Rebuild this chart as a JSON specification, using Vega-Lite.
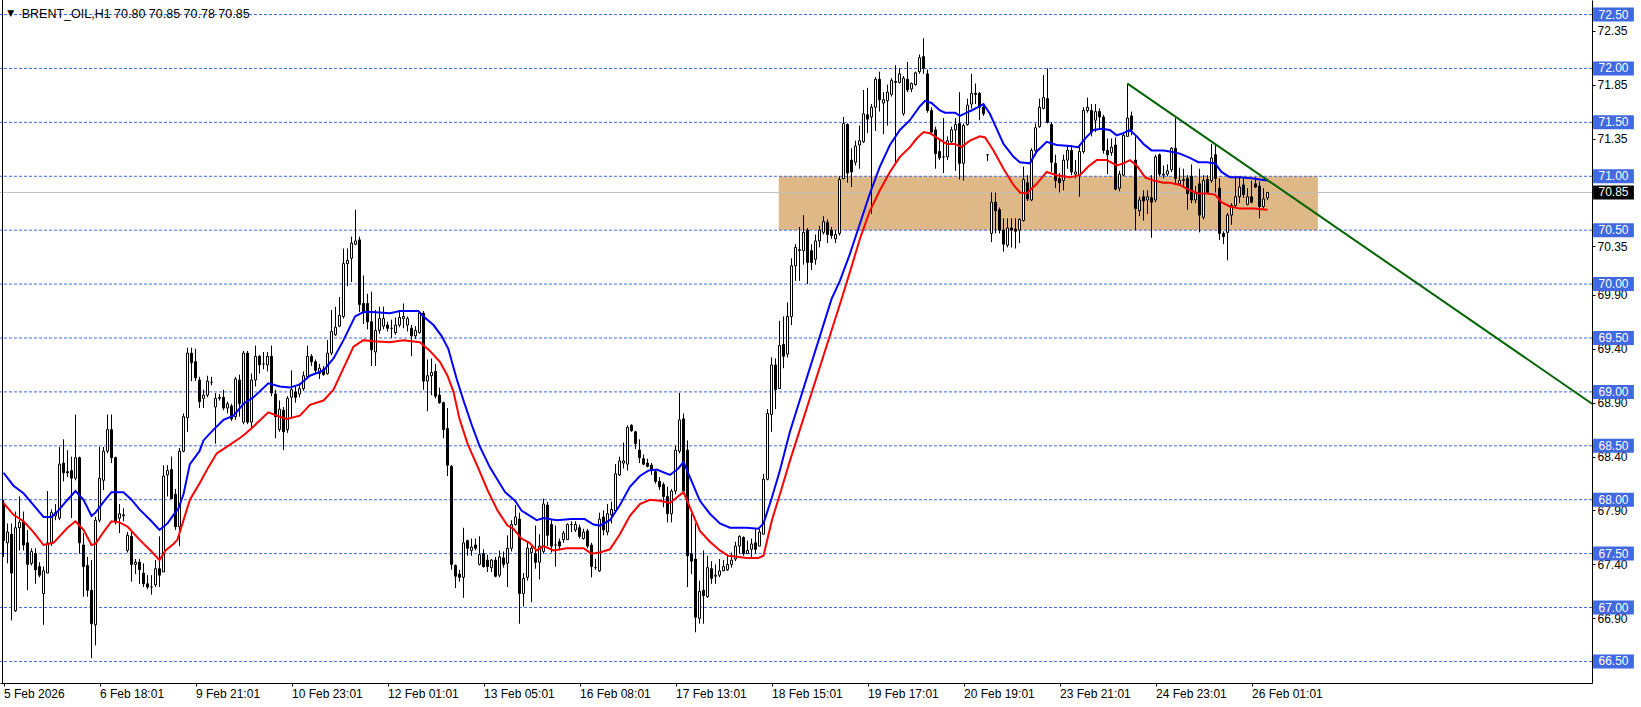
{
"$schema":"https://vega.github.io/schema/vega-lite/v6.json",
"width":1592,"height":683,
"autosize":{"type":"none"},
"padding":{"left":0,"top":0,"right":49,"bottom":24},
"background":"#ffffff",
"config":{"view":{"stroke":null},"font":"Liberation Sans","scale":{"continuousPadding":0}},
"resolve":{"axis":{"x":"independent","y":"independent"}},
"datasets":{
"zone":[{"a":193.8,"b":328.6,"top":71.0,"bot":70.5}],
"trend":[{"i":281,"v":71.86},{"i":397.125,"v":68.89}],
"last":[{"v":70.85}],
"frame":[{"k":1}],
"title":[{"t":"BRENT_OIL,H1 70.80 70.85 70.78 70.85","m":"▼"}],
"levels":[{"lv":66.5},{"lv":67.0},{"lv":67.5},{"lv":68.0},{"lv":68.5},{"lv":69.0},{"lv":69.5},{"lv":70.0},{"lv":70.5},{"lv":71.0},{"lv":71.5},{"lv":72.0},{"lv":72.5}],
"candles":[
{"i":0,"o":67.95,"h":68.0,"l":67.47,"c":67.62},{"i":1,"o":67.6,"h":67.78,"l":67.41,"c":67.7},{"i":2,"o":67.68,"h":67.78,"l":66.88,"c":67.32},{"i":3,"o":66.97,"h":67.89,"l":66.96,"c":67.74},{"i":4,"o":67.74,"h":68.03,"l":67.53,"c":67.79},{"i":5,"o":67.8,"h":67.89,"l":67.53,"c":67.58},{"i":6,"o":67.6,"h":67.72,"l":67.16,"c":67.4},{"i":7,"o":67.41,"h":67.55,"l":67.39,"c":67.52},{"i":8,"o":67.5,"h":67.55,"l":67.22,"c":67.35},{"i":9,"o":67.38,"h":67.42,"l":67.28,"c":67.3},
{"i":10,"o":67.13,"h":67.38,"l":66.84,"c":67.34},{"i":11,"o":67.32,"h":68.08,"l":67.32,"c":67.6},{"i":12,"o":67.6,"h":67.91,"l":67.57,"c":67.88},{"i":13,"o":67.85,"h":67.96,"l":67.81,"c":67.88},{"i":14,"o":67.83,"h":68.49,"l":67.81,"c":68.33},{"i":15,"o":68.34,"h":68.56,"l":68.17,"c":68.25},{"i":16,"o":68.26,"h":68.46,"l":68.21,"c":68.25},{"i":17,"o":68.27,"h":68.4,"l":67.83,"c":68.2},{"i":18,"o":68.2,"h":68.79,"l":68.18,"c":68.39},{"i":19,"o":68.39,"h":68.4,"l":67.5,"c":67.6},
{"i":20,"o":67.58,"h":67.69,"l":67.1,"c":67.38},{"i":21,"o":67.39,"h":67.47,"l":67.1,"c":67.16},{"i":22,"o":67.16,"h":67.44,"l":66.53,"c":66.85},{"i":23,"o":66.84,"h":67.84,"l":66.65,"c":67.81},{"i":24,"o":67.81,"h":68.49,"l":67.79,"c":68.2},{"i":25,"o":68.18,"h":68.49,"l":68.09,"c":68.45},{"i":26,"o":68.45,"h":68.79,"l":68.43,"c":68.65},{"i":27,"o":68.65,"h":68.79,"l":68.34,"c":68.39},{"i":28,"o":68.39,"h":68.4,"l":67.77,"c":67.8},{"i":29,"o":67.83,"h":67.96,"l":67.69,"c":67.87},
{"i":30,"o":67.85,"h":67.92,"l":67.8,"c":67.86},{"i":31,"o":67.53,"h":67.7,"l":67.51,"c":67.67},{"i":32,"o":67.66,"h":67.7,"l":67.24,"c":67.4},{"i":33,"o":67.4,"h":67.45,"l":67.31,"c":67.42},{"i":34,"o":67.42,"h":67.45,"l":67.22,"c":67.35},{"i":35,"o":67.32,"h":67.41,"l":67.19,"c":67.22},{"i":36,"o":67.22,"h":67.3,"l":67.17,"c":67.19},{"i":37,"o":67.19,"h":67.3,"l":67.12,"c":67.19},{"i":38,"o":67.21,"h":67.44,"l":67.19,"c":67.36},{"i":39,"o":67.36,"h":67.66,"l":67.19,"c":67.3},
{"i":40,"o":67.33,"h":68.32,"l":67.33,"c":68.22},{"i":41,"o":68.23,"h":68.32,"l":68.03,"c":68.27},{"i":42,"o":68.28,"h":68.4,"l":68.01,"c":68.01},{"i":43,"o":68.05,"h":68.1,"l":67.72,"c":67.75},{"i":44,"o":67.75,"h":68.48,"l":67.57,"c":68.45},{"i":45,"o":68.45,"h":68.8,"l":68.44,"c":68.77},{"i":46,"o":68.76,"h":69.41,"l":68.63,"c":69.36},{"i":47,"o":69.36,"h":69.41,"l":69.1,"c":69.27},{"i":48,"o":69.28,"h":69.4,"l":69.1,"c":69.13},{"i":49,"o":69.11,"h":69.14,"l":68.85,"c":68.91},
{"i":50,"o":68.94,"h":69.02,"l":68.85,"c":68.97},{"i":51,"o":68.97,"h":69.15,"l":68.95,"c":69.1},{"i":52,"o":69.09,"h":69.14,"l":69.06,"c":69.09},{"i":53,"o":68.86,"h":68.99,"l":68.52,"c":68.94},{"i":54,"o":68.94,"h":68.98,"l":68.92,"c":68.95},{"i":55,"o":68.95,"h":69.02,"l":68.83,"c":68.85},{"i":56,"o":68.85,"h":68.91,"l":68.8,"c":68.89},{"i":57,"o":68.87,"h":68.89,"l":68.73,"c":68.75},{"i":58,"o":68.77,"h":69.14,"l":68.74,"c":69.12},{"i":59,"o":69.11,"h":69.16,"l":68.77,"c":68.89},
{"i":60,"o":68.72,"h":69.38,"l":68.7,"c":69.36},{"i":61,"o":69.36,"h":69.38,"l":68.7,"c":68.72},{"i":62,"o":68.72,"h":69.17,"l":68.67,"c":69.11},{"i":63,"o":69.11,"h":69.43,"l":69.05,"c":69.33},{"i":64,"o":69.33,"h":69.34,"l":69.17,"c":69.25},{"i":65,"o":69.26,"h":69.37,"l":69.21,"c":69.26},{"i":66,"o":69.25,"h":69.37,"l":69.19,"c":69.33},{"i":67,"o":69.33,"h":69.43,"l":68.96,"c":68.99},{"i":68,"o":68.98,"h":69.02,"l":68.57,"c":68.77},{"i":69,"o":68.65,"h":68.92,"l":68.63,"c":68.84},
{"i":70,"o":68.83,"h":68.86,"l":68.46,"c":68.63},{"i":71,"o":68.65,"h":68.96,"l":68.62,"c":68.94},{"i":72,"o":68.95,"h":69.2,"l":68.75,"c":69.02},{"i":73,"o":69.0,"h":69.05,"l":68.9,"c":68.95},{"i":74,"o":68.98,"h":69.08,"l":68.95,"c":69.03},{"i":75,"o":69.03,"h":69.19,"l":69.01,"c":69.15},{"i":76,"o":69.14,"h":69.43,"l":69.12,"c":69.33},{"i":77,"o":69.33,"h":69.35,"l":69.24,"c":69.28},{"i":78,"o":69.28,"h":69.3,"l":69.17,"c":69.2},{"i":79,"o":69.17,"h":69.26,"l":69.12,"c":69.22},
{"i":80,"o":69.21,"h":69.24,"l":69.15,"c":69.16},{"i":81,"o":69.17,"h":69.48,"l":69.16,"c":69.36},{"i":82,"o":69.36,"h":69.76,"l":69.34,"c":69.56},{"i":83,"o":69.53,"h":69.79,"l":69.52,"c":69.6},{"i":84,"o":69.61,"h":69.88,"l":69.6,"c":69.71},{"i":85,"o":69.7,"h":70.33,"l":69.68,"c":70.19},{"i":86,"o":70.19,"h":70.33,"l":69.98,"c":70.22},{"i":87,"o":70.24,"h":70.44,"l":70.02,"c":70.38},{"i":88,"o":70.37,"h":70.69,"l":70.36,"c":70.4},{"i":89,"o":70.41,"h":70.44,"l":69.74,"c":69.81},
{"i":90,"o":69.82,"h":70.08,"l":69.63,"c":69.74},{"i":91,"o":69.82,"h":69.91,"l":69.58,"c":69.65},{"i":92,"o":69.65,"h":69.93,"l":69.24,"c":69.39},{"i":93,"o":69.37,"h":69.76,"l":69.24,"c":69.57},{"i":94,"o":69.57,"h":69.79,"l":69.54,"c":69.68},{"i":95,"o":69.61,"h":69.79,"l":69.58,"c":69.68},{"i":96,"o":69.62,"h":69.65,"l":69.56,"c":69.59},{"i":97,"o":69.59,"h":69.67,"l":69.5,"c":69.59},{"i":98,"o":69.55,"h":69.69,"l":69.53,"c":69.62},{"i":99,"o":69.62,"h":69.74,"l":69.6,"c":69.69},
{"i":100,"o":69.68,"h":69.82,"l":69.59,"c":69.7},{"i":101,"o":69.62,"h":69.7,"l":69.56,"c":69.68},{"i":102,"o":69.59,"h":69.62,"l":69.33,"c":69.52},{"i":103,"o":69.52,"h":69.61,"l":69.49,"c":69.57},{"i":104,"o":69.55,"h":69.75,"l":69.54,"c":69.73},{"i":105,"o":69.73,"h":69.75,"l":69.02,"c":69.1},{"i":106,"o":69.1,"h":69.3,"l":68.82,"c":69.15},{"i":107,"o":69.15,"h":69.31,"l":68.97,"c":69.18},{"i":108,"o":69.19,"h":69.26,"l":68.94,"c":68.96},{"i":109,"o":68.97,"h":69.04,"l":68.89,"c":68.9},
{"i":110,"o":68.9,"h":68.91,"l":68.57,"c":68.65},{"i":111,"o":68.66,"h":68.85,"l":68.22,"c":68.32},{"i":112,"o":68.31,"h":68.32,"l":67.35,"c":67.4},{"i":113,"o":67.39,"h":67.4,"l":67.18,"c":67.29},{"i":114,"o":67.31,"h":67.35,"l":67.24,"c":67.28},{"i":115,"o":67.28,"h":67.74,"l":67.09,"c":67.6},{"i":116,"o":67.62,"h":67.63,"l":67.48,"c":67.55},{"i":117,"o":67.53,"h":67.64,"l":67.48,"c":67.56},{"i":118,"o":67.58,"h":67.64,"l":67.53,"c":67.55},{"i":119,"o":67.4,"h":67.66,"l":67.39,"c":67.49},
{"i":120,"o":67.5,"h":67.54,"l":67.37,"c":67.38},{"i":121,"o":67.44,"h":67.49,"l":67.33,"c":67.38},{"i":122,"o":67.37,"h":67.45,"l":67.33,"c":67.44},{"i":123,"o":67.44,"h":67.47,"l":67.28,"c":67.29},{"i":124,"o":67.3,"h":67.53,"l":67.28,"c":67.47},{"i":125,"o":67.46,"h":67.52,"l":67.37,"c":67.4},{"i":126,"o":67.41,"h":67.67,"l":67.19,"c":67.55},{"i":127,"o":67.55,"h":67.81,"l":67.52,"c":67.77},{"i":128,"o":67.77,"h":67.95,"l":67.76,"c":67.84},{"i":129,"o":67.82,"h":67.88,"l":66.85,"c":67.13},
{"i":130,"o":67.13,"h":67.32,"l":67.01,"c":67.27},{"i":131,"o":67.28,"h":67.6,"l":67.25,"c":67.55},{"i":132,"o":67.51,"h":67.58,"l":67.05,"c":67.55},{"i":133,"o":67.5,"h":67.76,"l":67.36,"c":67.42},{"i":134,"o":67.42,"h":67.68,"l":67.26,"c":67.57},{"i":135,"o":67.52,"h":68.01,"l":67.5,"c":67.96},{"i":136,"o":67.95,"h":67.98,"l":67.57,"c":67.67},{"i":137,"o":67.77,"h":67.81,"l":67.51,"c":67.57},{"i":138,"o":67.58,"h":67.76,"l":67.38,"c":67.58},{"i":139,"o":67.61,"h":67.64,"l":67.53,"c":67.57},
{"i":140,"o":67.63,"h":67.71,"l":67.6,"c":67.69},{"i":141,"o":67.63,"h":67.78,"l":67.63,"c":67.77},{"i":142,"o":67.77,"h":67.8,"l":67.7,"c":67.77},{"i":143,"o":67.72,"h":67.8,"l":67.7,"c":67.77},{"i":144,"o":67.74,"h":67.77,"l":67.64,"c":67.66},{"i":145,"o":67.64,"h":67.73,"l":67.63,"c":67.7},{"i":146,"o":67.71,"h":67.73,"l":67.55,"c":67.57},{"i":147,"o":67.58,"h":67.6,"l":67.28,"c":67.38},{"i":148,"o":67.37,"h":67.45,"l":67.35,"c":67.37},{"i":149,"o":67.34,"h":67.88,"l":67.33,"c":67.82},
{"i":150,"o":67.84,"h":67.9,"l":67.67,"c":67.72},{"i":151,"o":67.7,"h":67.96,"l":67.67,"c":67.87},{"i":152,"o":67.86,"h":67.98,"l":67.78,"c":67.91},{"i":153,"o":67.9,"h":68.33,"l":67.88,"c":68.24},{"i":154,"o":68.23,"h":68.4,"l":68.22,"c":68.36},{"i":155,"o":68.34,"h":68.53,"l":68.29,"c":68.36},{"i":156,"o":68.33,"h":68.69,"l":68.27,"c":68.67},{"i":157,"o":68.69,"h":68.7,"l":68.63,"c":68.64},{"i":158,"o":68.63,"h":68.64,"l":68.47,"c":68.52},{"i":159,"o":68.46,"h":68.56,"l":68.34,"c":68.39},
{"i":160,"o":68.38,"h":68.42,"l":68.32,"c":68.33},{"i":161,"o":68.34,"h":68.38,"l":68.3,"c":68.31},{"i":162,"o":68.32,"h":68.34,"l":68.23,"c":68.28},{"i":163,"o":68.26,"h":68.28,"l":68.15,"c":68.17},{"i":164,"o":68.17,"h":68.21,"l":68.09,"c":68.12},{"i":165,"o":68.14,"h":68.16,"l":67.93,"c":68.03},{"i":166,"o":68.03,"h":68.12,"l":67.79,"c":67.87},{"i":167,"o":67.87,"h":68.1,"l":67.79,"c":68.08},{"i":168,"o":68.08,"h":68.5,"l":68.05,"c":68.46},{"i":169,"o":68.45,"h":68.99,"l":68.43,"c":68.74},
{"i":170,"o":68.75,"h":68.8,"l":68.05,"c":68.08},{"i":171,"o":68.46,"h":68.55,"l":67.19,"c":67.48},{"i":172,"o":67.5,"h":67.87,"l":67.31,"c":67.43},{"i":173,"o":67.45,"h":67.78,"l":66.77,"c":66.91},{"i":174,"o":66.9,"h":67.25,"l":66.85,"c":67.15},{"i":175,"o":67.16,"h":67.53,"l":66.85,"c":67.11},{"i":176,"o":67.1,"h":67.48,"l":67.09,"c":67.37},{"i":177,"o":67.36,"h":67.43,"l":67.22,"c":67.27},{"i":178,"o":67.29,"h":67.4,"l":67.22,"c":67.3},{"i":179,"o":67.3,"h":67.45,"l":67.28,"c":67.34},
{"i":180,"o":67.34,"h":67.44,"l":67.34,"c":67.38},{"i":181,"o":67.35,"h":67.49,"l":67.34,"c":67.4},{"i":182,"o":67.4,"h":67.51,"l":67.37,"c":67.44},{"i":183,"o":67.45,"h":67.61,"l":67.43,"c":67.57},{"i":184,"o":67.57,"h":67.67,"l":67.5,"c":67.66},{"i":185,"o":67.65,"h":67.66,"l":67.48,"c":67.5},{"i":186,"o":67.5,"h":67.62,"l":67.5,"c":67.53},{"i":187,"o":67.54,"h":67.64,"l":67.47,"c":67.59},{"i":188,"o":67.6,"h":67.73,"l":67.5,"c":67.54},{"i":189,"o":67.57,"h":67.73,"l":67.57,"c":67.7},
{"i":190,"o":67.68,"h":68.24,"l":67.68,"c":68.19},{"i":191,"o":68.19,"h":68.84,"l":68.18,"c":68.8},{"i":192,"o":68.79,"h":69.32,"l":68.63,"c":69.25},{"i":193,"o":69.25,"h":69.31,"l":68.84,"c":69.02},{"i":194,"o":69.03,"h":69.66,"l":69.03,"c":69.43},{"i":195,"o":69.44,"h":69.7,"l":69.22,"c":69.33},{"i":196,"o":69.35,"h":69.83,"l":69.32,"c":69.7},{"i":197,"o":69.7,"h":70.24,"l":69.62,"c":70.17},{"i":198,"o":70.17,"h":70.37,"l":70.03,"c":70.34},{"i":199,"o":70.31,"h":70.53,"l":70.03,"c":70.32},
{"i":200,"o":70.31,"h":70.64,"l":70.18,"c":70.48},{"i":201,"o":70.5,"h":70.52,"l":70.0,"c":70.2},{"i":202,"o":70.31,"h":70.37,"l":70.13,"c":70.2},{"i":203,"o":70.23,"h":70.46,"l":70.18,"c":70.4},{"i":204,"o":70.4,"h":70.54,"l":70.34,"c":70.5},{"i":205,"o":70.48,"h":70.63,"l":70.46,"c":70.58},{"i":206,"o":70.57,"h":70.6,"l":70.38,"c":70.46},{"i":207,"o":70.5,"h":70.53,"l":70.42,"c":70.45},{"i":208,"o":70.42,"h":70.5,"l":70.38,"c":70.46},{"i":209,"o":70.47,"h":71.0,"l":70.45,"c":70.97},
{"i":210,"o":70.98,"h":71.55,"l":70.97,"c":71.49},{"i":211,"o":71.48,"h":71.49,"l":70.94,"c":71.03},{"i":212,"o":71.15,"h":71.26,"l":70.9,"c":71.04},{"i":213,"o":71.13,"h":71.33,"l":71.1,"c":71.28},{"i":214,"o":71.29,"h":71.47,"l":71.07,"c":71.33},{"i":215,"o":71.32,"h":71.8,"l":71.31,"c":71.58},{"i":216,"o":71.57,"h":71.82,"l":71.4,"c":71.53},{"i":217,"o":71.55,"h":71.67,"l":70.65,"c":71.64},{"i":218,"o":71.64,"h":71.92,"l":71.42,"c":71.9},{"i":219,"o":71.9,"h":71.97,"l":71.6,"c":71.71},
{"i":220,"o":71.68,"h":71.78,"l":71.39,"c":71.71},{"i":221,"o":71.7,"h":71.85,"l":71.47,"c":71.78},{"i":222,"o":71.76,"h":71.91,"l":71.74,"c":71.89},{"i":223,"o":71.88,"h":72.03,"l":71.12,"c":71.87},{"i":224,"o":71.87,"h":72.0,"l":71.86,"c":71.95},{"i":225,"o":71.58,"h":71.93,"l":71.56,"c":71.91},{"i":226,"o":71.9,"h":72.06,"l":71.78,"c":71.8},{"i":227,"o":71.81,"h":71.87,"l":71.78,"c":71.86},{"i":228,"o":71.85,"h":71.97,"l":71.84,"c":71.96},{"i":229,"o":71.97,"h":72.13,"l":71.95,"c":72.1},
{"i":230,"o":72.11,"h":72.28,"l":71.95,"c":72.0},{"i":231,"o":71.95,"h":71.99,"l":71.59,"c":71.61},{"i":232,"o":71.61,"h":71.64,"l":71.4,"c":71.41},{"i":233,"o":71.43,"h":71.46,"l":71.07,"c":71.21},{"i":234,"o":71.23,"h":71.34,"l":71.15,"c":71.17},{"i":235,"o":71.18,"h":71.54,"l":71.03,"c":71.18},{"i":236,"o":71.18,"h":71.37,"l":71.15,"c":71.33},{"i":237,"o":71.32,"h":71.46,"l":71.31,"c":71.43},{"i":238,"o":71.43,"h":71.54,"l":71.05,"c":71.48},{"i":239,"o":71.49,"h":71.78,"l":70.97,"c":71.12},
{"i":240,"o":71.12,"h":71.49,"l":70.96,"c":71.47},{"i":241,"o":71.48,"h":71.72,"l":71.47,"c":71.66},{"i":242,"o":71.67,"h":71.95,"l":71.63,"c":71.77},{"i":243,"o":71.77,"h":71.86,"l":71.67,"c":71.76},{"i":244,"o":71.77,"h":71.78,"l":71.52,"c":71.64},{"i":245,"o":71.64,"h":71.67,"l":71.56,"c":71.58},{"i":246,"o":71.2,"h":71.2,"l":71.14,"c":71.2},{"i":247,"o":70.47,"h":70.85,"l":70.39,"c":70.76},{"i":248,"o":70.76,"h":70.85,"l":70.47,"c":70.68},{"i":249,"o":70.69,"h":70.71,"l":70.47,"c":70.5},
{"i":250,"o":70.5,"h":70.61,"l":70.3,"c":70.37},{"i":251,"o":70.36,"h":70.61,"l":70.34,"c":70.52},{"i":252,"o":70.52,"h":70.61,"l":70.34,"c":70.5},{"i":253,"o":70.51,"h":70.61,"l":70.33,"c":70.49},{"i":254,"o":70.5,"h":70.61,"l":70.38,"c":70.6},{"i":255,"o":70.59,"h":71.09,"l":70.58,"c":70.97},{"i":256,"o":70.94,"h":71.01,"l":70.77,"c":70.79},{"i":257,"o":70.78,"h":71.26,"l":70.77,"c":71.24},{"i":258,"o":71.24,"h":71.49,"l":71.21,"c":71.45},{"i":259,"o":71.46,"h":71.72,"l":71.45,"c":71.64},
{"i":260,"o":71.63,"h":71.94,"l":71.62,"c":71.73},{"i":261,"o":71.72,"h":72.0,"l":71.49,"c":71.5},{"i":262,"o":71.48,"h":71.5,"l":71.04,"c":71.13},{"i":263,"o":71.12,"h":71.2,"l":70.89,"c":70.96},{"i":264,"o":70.98,"h":71.03,"l":70.85,"c":70.94},{"i":265,"o":70.96,"h":71.2,"l":70.87,"c":71.15},{"i":266,"o":71.15,"h":71.29,"l":71.07,"c":71.24},{"i":267,"o":71.24,"h":71.29,"l":71.01,"c":71.04},{"i":268,"o":71.02,"h":71.15,"l":70.98,"c":71.04},{"i":269,"o":71.01,"h":71.29,"l":70.81,"c":71.23},
{"i":270,"o":71.23,"h":71.64,"l":71.21,"c":71.61},{"i":271,"o":71.61,"h":71.73,"l":71.59,"c":71.64},{"i":272,"o":71.61,"h":71.67,"l":71.37,"c":71.41},{"i":273,"o":71.52,"h":71.67,"l":71.41,"c":71.6},{"i":274,"o":71.6,"h":71.63,"l":71.43,"c":71.55},{"i":275,"o":71.55,"h":71.57,"l":71.21,"c":71.24},{"i":276,"o":71.24,"h":71.35,"l":71.02,"c":71.2},{"i":277,"o":71.22,"h":71.35,"l":71.19,"c":71.27},{"i":278,"o":71.29,"h":71.36,"l":70.87,"c":70.88},{"i":279,"o":70.89,"h":71.05,"l":70.86,"c":71.02},
{"i":280,"o":71.01,"h":71.41,"l":71.0,"c":71.38},{"i":281,"o":71.37,"h":71.86,"l":71.37,"c":71.54},{"i":282,"o":71.56,"h":71.6,"l":71.38,"c":71.43},{"i":283,"o":71.15,"h":71.37,"l":70.5,"c":70.7},{"i":284,"o":70.68,"h":70.81,"l":70.63,"c":70.78},{"i":285,"o":70.81,"h":70.87,"l":70.59,"c":70.77},{"i":286,"o":70.78,"h":70.87,"l":70.65,"c":70.81},{"i":287,"o":70.8,"h":71.01,"l":70.43,"c":70.76},{"i":288,"o":70.78,"h":71.2,"l":70.76,"c":71.18},{"i":289,"o":71.2,"h":71.21,"l":71.0,"c":71.02},
{"i":290,"o":71.01,"h":71.1,"l":70.98,"c":71.02},{"i":291,"o":71.02,"h":71.11,"l":71.0,"c":71.05},{"i":292,"o":71.06,"h":71.27,"l":71.04,"c":71.26},{"i":293,"o":71.26,"h":71.54,"l":70.93,"c":70.98},{"i":294,"o":70.93,"h":71.08,"l":70.93,"c":70.96},{"i":295,"o":70.96,"h":71.07,"l":70.91,"c":70.97},{"i":296,"o":70.98,"h":71.01,"l":70.69,"c":70.84},{"i":297,"o":71.0,"h":71.11,"l":70.75,"c":70.78},{"i":298,"o":70.78,"h":70.91,"l":70.75,"c":70.84},{"i":299,"o":70.93,"h":71.07,"l":70.48,"c":70.64},
{"i":300,"o":70.62,"h":71.01,"l":70.6,"c":70.96},{"i":301,"o":70.97,"h":71.01,"l":70.84,"c":70.85},{"i":302,"o":70.96,"h":71.3,"l":70.94,"c":71.17},{"i":303,"o":71.2,"h":71.3,"l":70.85,"c":70.98},{"i":304,"o":70.89,"h":70.98,"l":70.41,"c":70.47},{"i":305,"o":70.47,"h":70.49,"l":70.37,"c":70.44},{"i":306,"o":70.48,"h":70.66,"l":70.22,"c":70.64},{"i":307,"o":70.64,"h":70.75,"l":70.55,"c":70.73},{"i":308,"o":70.73,"h":70.99,"l":70.71,"c":70.81},{"i":309,"o":70.81,"h":71.0,"l":70.75,"c":70.9},
{"i":310,"o":70.92,"h":70.99,"l":70.8,"c":70.83},{"i":311,"o":70.74,"h":70.89,"l":70.73,"c":70.81},{"i":312,"o":70.81,"h":70.96,"l":70.75,"c":70.76},{"i":313,"o":70.93,"h":70.99,"l":70.89,"c":70.9},{"i":314,"o":70.91,"h":70.95,"l":70.61,"c":70.72},{"i":315,"o":70.72,"h":70.89,"l":70.7,"c":70.79},{"i":316,"o":70.8,"h":70.85,"l":70.78,"c":70.85}
],
"ma":[
{"s":"hi","i":0,"v":68.25},{"s":"hi","i":2.5,"v":68.13},{"s":"hi","i":5,"v":68.06},{"s":"hi","i":7.5,"v":67.95},{"s":"hi","i":10,"v":67.84},{"s":"hi","i":12,"v":67.84},{"s":"hi","i":13.5,"v":67.89},{"s":"hi","i":16,"v":68.0},{"s":"hi","i":18,"v":68.08},{"s":"hi","i":20,"v":68.0},{"s":"hi","i":22,"v":67.85},{"s":"hi","i":23,"v":67.88},{"s":"hi","i":25,"v":67.98},{"s":"hi","i":27,"v":68.07},{"s":"hi","i":30,"v":68.07},{"s":"hi","i":32,"v":68.0},{"s":"hi","i":34,"v":67.91},{"s":"hi","i":37,"v":67.8},{"s":"hi","i":39,"v":67.72},{"s":"hi","i":41,"v":67.78},{"s":"hi","i":42.5,"v":67.86},{"s":"hi","i":43.75,"v":67.92},{"s":"hi","i":45,"v":68.05},{"s":"hi","i":46.6,"v":68.33},{"s":"hi","i":49,"v":68.45},{"s":"hi","i":50,"v":68.55},{"s":"hi","i":52.5,"v":68.65},{"s":"hi","i":55,"v":68.74},{"s":"hi","i":57.5,"v":68.78},{"s":"hi","i":60,"v":68.89},{"s":"hi","i":62.5,"v":68.95},{"s":"hi","i":66.2,"v":69.08},{"s":"hi","i":69.1,"v":69.05},{"s":"hi","i":71.6,"v":69.04},{"s":"hi","i":74.1,"v":69.07},{"s":"hi","i":76.6,"v":69.15},{"s":"hi","i":80,"v":69.2},{"s":"hi","i":82.5,"v":69.31},{"s":"hi","i":85,"v":69.48},{"s":"hi","i":87.9,"v":69.7},{"s":"hi","i":90,"v":69.74},{"s":"hi","i":92.1,"v":69.74},{"s":"hi","i":96.6,"v":69.73},{"s":"hi","i":99.1,"v":69.75},{"s":"hi","i":103.7,"v":69.75},{"s":"hi","i":105,"v":69.7},{"s":"hi","i":107.5,"v":69.62},{"s":"hi","i":109.5,"v":69.52},{"s":"hi","i":111.2,"v":69.4},{"s":"hi","i":113.3,"v":69.12},{"s":"hi","i":115,"v":68.92},{"s":"hi","i":117,"v":68.7},{"s":"hi","i":119,"v":68.5},{"s":"hi","i":121.6,"v":68.3},{"s":"hi","i":125.4,"v":68.07},{"s":"hi","i":127.9,"v":67.99},{"s":"hi","i":129.5,"v":67.9},{"s":"hi","i":133.3,"v":67.81},{"s":"hi","i":135,"v":67.83},{"s":"hi","i":138.3,"v":67.81},{"s":"hi","i":142,"v":67.82},{"s":"hi","i":145.3,"v":67.82},{"s":"hi","i":147.5,"v":67.77},{"s":"hi","i":149.1,"v":67.76},{"s":"hi","i":151.6,"v":67.81},{"s":"hi","i":154.1,"v":67.95},{"s":"hi","i":156.6,"v":68.12},{"s":"hi","i":159.1,"v":68.22},{"s":"hi","i":161.2,"v":68.27},{"s":"hi","i":163.3,"v":68.28},{"s":"hi","i":166.6,"v":68.23},{"s":"hi","i":168.7,"v":68.29},{"s":"hi","i":170,"v":68.35},{"s":"hi","i":171.6,"v":68.21},{"s":"hi","i":174.1,"v":67.99},{"s":"hi","i":176.6,"v":67.87},{"s":"hi","i":179.1,"v":67.78},{"s":"hi","i":181.6,"v":67.74},{"s":"hi","i":185.8,"v":67.74},{"s":"hi","i":188.7,"v":67.73},{"s":"hi","i":190,"v":67.78},{"s":"hi","i":192.1,"v":68.02},{"s":"hi","i":194.1,"v":68.27},{"s":"hi","i":196.6,"v":68.63},{"s":"hi","i":207,"v":69.86},{"s":"hi","i":209.1,"v":70.03},{"s":"hi","i":211.6,"v":70.28},{"s":"hi","i":214.1,"v":70.56},{"s":"hi","i":216.6,"v":70.84},{"s":"hi","i":219.1,"v":71.09},{"s":"hi","i":221.6,"v":71.29},{"s":"hi","i":224.1,"v":71.43},{"s":"hi","i":226.6,"v":71.52},{"s":"hi","i":229.1,"v":71.65},{"s":"hi","i":230.4,"v":71.7},{"s":"hi","i":232,"v":71.68},{"s":"hi","i":234.1,"v":71.61},{"s":"hi","i":235.4,"v":71.59},{"s":"hi","i":237.9,"v":71.59},{"s":"hi","i":239.1,"v":71.56},{"s":"hi","i":240.8,"v":71.59},{"s":"hi","i":242,"v":71.61},{"s":"hi","i":244.1,"v":71.65},{"s":"hi","i":245,"v":71.67},{"s":"hi","i":246.6,"v":71.58},{"s":"hi","i":248.3,"v":71.44},{"s":"hi","i":250,"v":71.3},{"s":"hi","i":252.5,"v":71.18},{"s":"hi","i":254.1,"v":71.13},{"s":"hi","i":256.6,"v":71.12},{"s":"hi","i":258.3,"v":71.23},{"s":"hi","i":260.8,"v":71.32},{"s":"hi","i":263.3,"v":71.29},{"s":"hi","i":266.6,"v":71.28},{"s":"hi","i":268.7,"v":71.27},{"s":"hi","i":270.4,"v":71.35},{"s":"hi","i":272.5,"v":71.43},{"s":"hi","i":274.5,"v":71.44},{"s":"hi","i":276.6,"v":71.43},{"s":"hi","i":278.3,"v":71.38},{"s":"hi","i":280,"v":71.4},{"s":"hi","i":281.6,"v":71.43},{"s":"hi","i":283.3,"v":71.37},{"s":"hi","i":285,"v":71.3},{"s":"hi","i":287,"v":71.24},{"s":"hi","i":290,"v":71.24},{"s":"hi","i":291.6,"v":71.23},{"s":"hi","i":294.1,"v":71.21},{"s":"hi","i":296.6,"v":71.17},{"s":"hi","i":298.7,"v":71.13},{"s":"hi","i":300.8,"v":71.13},{"s":"hi","i":302.9,"v":71.12},{"s":"hi","i":304.5,"v":71.04},{"s":"hi","i":306.6,"v":70.99},{"s":"hi","i":309.1,"v":70.99},{"s":"hi","i":312.5,"v":70.98},{"s":"hi","i":314.1,"v":70.97},{"s":"hi","i":316,"v":70.96},
{"s":"lo","i":0,"v":67.97},{"s":"lo","i":2.5,"v":67.86},{"s":"lo","i":5,"v":67.8},{"s":"lo","i":7.5,"v":67.7},{"s":"lo","i":10,"v":67.58},{"s":"lo","i":12.5,"v":67.6},{"s":"lo","i":14,"v":67.66},{"s":"lo","i":16,"v":67.74},{"s":"lo","i":18,"v":67.8},{"s":"lo","i":20,"v":67.72},{"s":"lo","i":22,"v":67.58},{"s":"lo","i":23,"v":67.59},{"s":"lo","i":25,"v":67.7},{"s":"lo","i":27,"v":67.8},{"s":"lo","i":29,"v":67.79},{"s":"lo","i":31,"v":67.75},{"s":"lo","i":34,"v":67.63},{"s":"lo","i":37,"v":67.52},{"s":"lo","i":39,"v":67.44},{"s":"lo","i":40.5,"v":67.53},{"s":"lo","i":42.5,"v":67.59},{"s":"lo","i":43.5,"v":67.63},{"s":"lo","i":44.5,"v":67.75},{"s":"lo","i":46.6,"v":68.0},{"s":"lo","i":49,"v":68.15},{"s":"lo","i":51.2,"v":68.3},{"s":"lo","i":53.3,"v":68.43},{"s":"lo","i":55.8,"v":68.49},{"s":"lo","i":59,"v":68.57},{"s":"lo","i":60.4,"v":68.61},{"s":"lo","i":62.5,"v":68.68},{"s":"lo","i":66.2,"v":68.81},{"s":"lo","i":69.1,"v":68.77},{"s":"lo","i":70.8,"v":68.75},{"s":"lo","i":74.1,"v":68.78},{"s":"lo","i":76.6,"v":68.88},{"s":"lo","i":80,"v":68.92},{"s":"lo","i":82.5,"v":69.02},{"s":"lo","i":85,"v":69.22},{"s":"lo","i":87.5,"v":69.42},{"s":"lo","i":90,"v":69.48},{"s":"lo","i":92.5,"v":69.47},{"s":"lo","i":96.6,"v":69.46},{"s":"lo","i":100,"v":69.48},{"s":"lo","i":104.1,"v":69.46},{"s":"lo","i":106.6,"v":69.38},{"s":"lo","i":109.1,"v":69.28},{"s":"lo","i":111,"v":69.15},{"s":"lo","i":112.5,"v":69.0},{"s":"lo","i":114,"v":68.75},{"s":"lo","i":116,"v":68.52},{"s":"lo","i":118.5,"v":68.31},{"s":"lo","i":121,"v":68.09},{"s":"lo","i":123.5,"v":67.9},{"s":"lo","i":126,"v":67.76},{"s":"lo","i":127.5,"v":67.73},{"s":"lo","i":129.5,"v":67.64},{"s":"lo","i":131.5,"v":67.6},{"s":"lo","i":133.3,"v":67.53},{"s":"lo","i":135,"v":67.57},{"s":"lo","i":137.5,"v":67.53},{"s":"lo","i":140.8,"v":67.55},{"s":"lo","i":145,"v":67.55},{"s":"lo","i":147,"v":67.5},{"s":"lo","i":149.1,"v":67.51},{"s":"lo","i":151.6,"v":67.54},{"s":"lo","i":154.1,"v":67.68},{"s":"lo","i":156.6,"v":67.85},{"s":"lo","i":159.1,"v":67.96},{"s":"lo","i":161.6,"v":68.0},{"s":"lo","i":164.1,"v":67.99},{"s":"lo","i":166.6,"v":67.97},{"s":"lo","i":168.3,"v":68.02},{"s":"lo","i":170,"v":68.07},{"s":"lo","i":171.6,"v":67.93},{"s":"lo","i":174.1,"v":67.71},{"s":"lo","i":176.6,"v":67.61},{"s":"lo","i":179.1,"v":67.53},{"s":"lo","i":181.2,"v":67.48},{"s":"lo","i":183.3,"v":67.47},{"s":"lo","i":185.8,"v":67.46},{"s":"lo","i":188.7,"v":67.46},{"s":"lo","i":190,"v":67.48},{"s":"lo","i":192.1,"v":67.81},{"s":"lo","i":194.1,"v":68.05},{"s":"lo","i":196.6,"v":68.36},{"s":"lo","i":209.5,"v":69.86},{"s":"lo","i":212,"v":70.16},{"s":"lo","i":214.1,"v":70.42},{"s":"lo","i":216.6,"v":70.68},{"s":"lo","i":219.1,"v":70.87},{"s":"lo","i":221.6,"v":71.04},{"s":"lo","i":224.1,"v":71.18},{"s":"lo","i":226.6,"v":71.27},{"s":"lo","i":228.3,"v":71.35},{"s":"lo","i":230,"v":71.41},{"s":"lo","i":231.6,"v":71.4},{"s":"lo","i":233.7,"v":71.35},{"s":"lo","i":235.8,"v":71.3},{"s":"lo","i":237.9,"v":71.3},{"s":"lo","i":239.5,"v":71.27},{"s":"lo","i":241.6,"v":71.33},{"s":"lo","i":244.1,"v":71.37},{"s":"lo","i":245.4,"v":71.36},{"s":"lo","i":247.5,"v":71.24},{"s":"lo","i":250,"v":71.07},{"s":"lo","i":252.5,"v":70.92},{"s":"lo","i":254.1,"v":70.85},{"s":"lo","i":255.8,"v":70.84},{"s":"lo","i":258.3,"v":70.93},{"s":"lo","i":260.8,"v":71.04},{"s":"lo","i":263.3,"v":71.01},{"s":"lo","i":266.6,"v":70.99},{"s":"lo","i":269.1,"v":71.01},{"s":"lo","i":271.2,"v":71.09},{"s":"lo","i":273.3,"v":71.15},{"s":"lo","i":275.8,"v":71.15},{"s":"lo","i":278.3,"v":71.1},{"s":"lo","i":280,"v":71.12},{"s":"lo","i":281.6,"v":71.15},{"s":"lo","i":283.3,"v":71.1},{"s":"lo","i":285.4,"v":70.99},{"s":"lo","i":287.5,"v":70.96},{"s":"lo","i":290,"v":70.94},{"s":"lo","i":291.6,"v":70.94},{"s":"lo","i":294.1,"v":70.92},{"s":"lo","i":296.6,"v":70.87},{"s":"lo","i":298.7,"v":70.84},{"s":"lo","i":300.8,"v":70.84},{"s":"lo","i":302.9,"v":70.83},{"s":"lo","i":304.5,"v":70.76},{"s":"lo","i":306.6,"v":70.72},{"s":"lo","i":309.1,"v":70.7},{"s":"lo","i":312.5,"v":70.7},{"s":"lo","i":316,"v":70.69}
]
},
"layer":[
{"data":{"name":"zone"},"mark":{"type":"rect","color":"#DEB887"},
 "encoding":{"x":{"field":"a","type":"quantitative","scale":{"domain":[-0.875,397.125],"nice":false,"zero":false,"padding":0},"axis":null},"x2":{"field":"b"},
 "y":{"field":"top","type":"quantitative","scale":{"domain":[66.3,72.635],"nice":false,"zero":false,"padding":0},"axis":null},"y2":{"field":"bot"}}},
{"data":{"name":"levels"},"mark":{"type":"rule","color":"#4169E1","strokeDash":[3,2],"strokeWidth":1},
 "encoding":{"y":{"field":"lv","type":"quantitative","scale":{"domain":[66.3,72.635],"nice":false,"zero":false,"padding":0},"axis":null}}},
{"data":{"name":"last"},"mark":{"type":"rule","color":"#C0C0C0","strokeWidth":1},
 "encoding":{"y":{"field":"v","type":"quantitative","scale":{"domain":[66.3,72.635],"nice":false,"zero":false,"padding":0},"axis":null}}},
{"data":{"name":"candles"},"mark":{"type":"rule","color":"#000000","strokeWidth":1},
 "encoding":{"x":{"field":"i","type":"quantitative","scale":{"domain":[-0.875,397.125],"nice":false,"zero":false,"padding":0},"axis":null},
 "y":{"field":"l","type":"quantitative","scale":{"domain":[66.3,72.635],"nice":false,"zero":false,"padding":0},"axis":null},"y2":{"field":"h"}}},
{"data":{"name":"candles"},"mark":{"type":"bar","size":2,"stroke":"#000000","strokeWidth":1},
 "encoding":{"x":{"field":"i","type":"quantitative","scale":{"domain":[-0.875,397.125],"nice":false,"zero":false,"padding":0},
   "axis":{"orient":"bottom","values":[0,24,48,72,96,120,144,168,192,216,240,264,288,312],"labelExpr":"['5 Feb 2026','6 Feb 18:01','9 Feb 21:01','10 Feb 23:01','12 Feb 01:01','13 Feb 05:01','16 Feb 08:01','17 Feb 13:01','18 Feb 15:01','19 Feb 17:01','20 Feb 19:01','23 Feb 21:01','24 Feb 23:01','26 Feb 01:01'][round(datum.value/24)]","labelAlign":"left","labelBaseline":"top","labelPadding":2,"tickSize":3,"tickColor":"#000000","domainColor":"#000000","labelColor":"#000000","labelFont":"Liberation Sans","labelFontSize":12,"labelOverlap":false,"labelFlush":false,"grid":false,"title":null}},
 "y":{"field":"o","type":"quantitative","scale":{"domain":[66.3,72.635],"nice":false,"zero":false,"padding":0},
   "axis":{"orient":"right","values":[72.35,71.85,71.35,70.35,69.9,69.4,68.9,68.4,67.9,67.4,66.9],"format":".2f","tickSize":3,"labelPadding":2,"tickColor":"#000000","domainColor":"#000000","labelColor":"#000000","labelFont":"Liberation Sans","labelFontSize":12,"labelAlign":"left","labelBaseline":"middle","labelOverlap":false,"labelFlush":false,"grid":false,"title":null}},
 "y2":{"field":"c"},
 "fill":{"condition":{"test":"datum.c >= datum.o","value":"#ffffff"},"value":"#000000"}}},
{"data":{"name":"ma"},"mark":{"type":"line","strokeWidth":2},
 "encoding":{"x":{"field":"i","type":"quantitative","scale":{"domain":[-0.875,397.125],"nice":false,"zero":false,"padding":0},"axis":null},
 "y":{"field":"v","type":"quantitative","scale":{"domain":[66.3,72.635],"nice":false,"zero":false,"padding":0},"axis":null},
 "color":{"field":"s","type":"nominal","scale":{"domain":["hi","lo"],"range":["#0000FF","#FF0000"]},"legend":null}}},
{"data":{"name":"trend"},"mark":{"type":"line","color":"#006400","strokeWidth":2},
 "encoding":{"x":{"field":"i","type":"quantitative","scale":{"domain":[-0.875,397.125],"nice":false,"zero":false,"padding":0},"axis":null},
 "y":{"field":"v","type":"quantitative","scale":{"domain":[66.3,72.635],"nice":false,"zero":false,"padding":0},"axis":null}}},
{"data":{"name":"title"},"mark":{"type":"text","align":"left","baseline":"middle","fontSize":12.5,"font":"Liberation Sans","color":"#000000"},
 "encoding":{"x":{"datum":4.55,"type":"quantitative","scale":{"domain":[-0.875,397.125],"nice":false,"zero":false,"padding":0},"axis":null},
 "y":{"datum":72.508,"type":"quantitative","scale":{"domain":[66.3,72.635],"nice":false,"zero":false,"padding":0},"axis":null},
 "text":{"field":"t"}}},
{"data":{"name":"title"},"mark":{"type":"text","align":"center","baseline":"middle","fontSize":9,"font":"DejaVu Sans","color":"#000000"},
 "encoding":{"x":{"datum":1.8,"type":"quantitative","scale":{"domain":[-0.875,397.125],"nice":false,"zero":false,"padding":0},"axis":null},
 "y":{"datum":72.515,"type":"quantitative","scale":{"domain":[66.3,72.635],"nice":false,"zero":false,"padding":0},"axis":null},
 "text":{"field":"m"}}},
{"data":{"name":"frame"},"mark":{"type":"rule","color":"#000000","strokeWidth":1},
 "encoding":{"x":{"datum":-0.25,"type":"quantitative","scale":{"domain":[-0.875,397.125],"nice":false,"zero":false,"padding":0},"axis":null}}},
{"data":{"name":"levels"},"mark":{"type":"bar","size":14,"color":"#4169E1","orient":"horizontal"},
 "encoding":{"x":{"datum":397.4,"type":"quantitative","scale":{"domain":[-0.875,397.125],"nice":false,"zero":false,"padding":0},"axis":null},"x2":{"datum":407.6},
 "y":{"field":"lv","type":"quantitative","scale":{"domain":[66.3,72.635],"nice":false,"zero":false,"padding":0},"axis":null}}},
{"data":{"name":"levels"},"mark":{"type":"text","align":"center","baseline":"middle","fontSize":12,"font":"Liberation Sans","color":"#FFFFFF"},
 "encoding":{"x":{"datum":402.5,"type":"quantitative","scale":{"domain":[-0.875,397.125],"nice":false,"zero":false,"padding":0},"axis":null},
 "y":{"field":"lv","type":"quantitative","scale":{"domain":[66.3,72.635],"nice":false,"zero":false,"padding":0},"axis":null},
 "text":{"field":"lv","type":"quantitative","format":".2f"}}},
{"data":{"name":"last"},"mark":{"type":"bar","size":14,"color":"#000000","orient":"horizontal"},
 "encoding":{"x":{"datum":397.4,"type":"quantitative","scale":{"domain":[-0.875,397.125],"nice":false,"zero":false,"padding":0},"axis":null},"x2":{"datum":407.6},
 "y":{"field":"v","type":"quantitative","scale":{"domain":[66.3,72.635],"nice":false,"zero":false,"padding":0},"axis":null}}},
{"data":{"name":"last"},"mark":{"type":"text","align":"center","baseline":"middle","fontSize":12,"font":"Liberation Sans","color":"#FFFFFF"},
 "encoding":{"x":{"datum":402.5,"type":"quantitative","scale":{"domain":[-0.875,397.125],"nice":false,"zero":false,"padding":0},"axis":null},
 "y":{"field":"v","type":"quantitative","scale":{"domain":[66.3,72.635],"nice":false,"zero":false,"padding":0},"axis":null},
 "text":{"field":"v","type":"quantitative","format":".2f"}}}
]
}
